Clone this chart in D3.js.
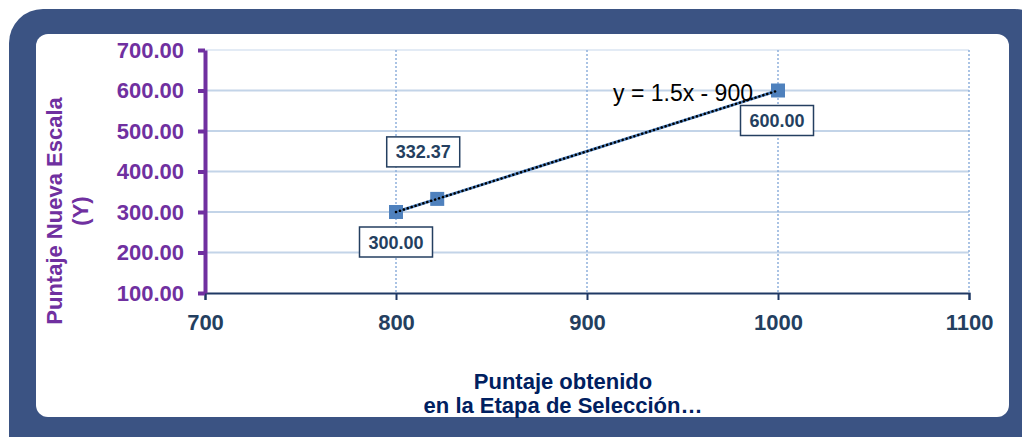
<!DOCTYPE html>
<html>
<head>
<meta charset="utf-8">
<script src="https://cdn.jsdelivr.net/npm/d3@7"></script>
<style>
  body { margin: 0; background: #fff; }
  svg { display: block; }
</style>
</head>
<body>
<svg id="chart"></svg>
<script>
// data
var xValues = [800, 821.58, 1000];
var yValues = [300, 332.37, 600];
var pointLabels = ['300.00', '332.37', '600.00'];
var xTicks = [700, 800, 900, 1000, 1100];
var yTicks = [100, 200, 300, 400, 500, 600, 700];
var trendStart = [800, 1000];
var trendSlope = 1.5, trendIntercept = -900;
var equationText = 'y = 1.5x - 900';

var width = 1022, height = 437;
var svg = d3.select('#chart').attr('width', width).attr('height', height);

// frame
svg.append('rect').attr('x', 9).attr('y', 9).attr('width', 1040).attr('height', 470)
    .attr('rx', 34).attr('fill', '#3b5383');
svg.append('rect').attr('x', 36).attr('y', 34).attr('width', 973).attr('height', 383)
    .attr('rx', 12).attr('fill', '#fff');

var x = d3.scaleLinear().domain([700, 1100]).range([205, 969]);
var y = d3.scaleLinear().domain([100, 700]).range([293, 50]);

// gridlines
svg.append('g').selectAll('line').data(yTicks.slice(1)).enter().append('line')
    .attr('x1', x(700)).attr('x2', x(1100))
    .attr('y1', function (d) { return y(d); }).attr('y2', function (d) { return y(d); })
    .attr('stroke', function (d) { return d === 700 ? '#e3ebf5' : '#c3d4e8'; })
    .attr('stroke-width', 2);
svg.append('g').selectAll('line').data(xTicks.slice(1)).enter().append('line')
    .attr('x1', function (d) { return x(d); }).attr('x2', function (d) { return x(d); })
    .attr('y1', y(700)).attr('y2', y(100))
    .attr('stroke', '#8fb0dc').attr('stroke-width', 1.5).attr('stroke-dasharray', '2,2');

// x axis
var xAxis = svg.append('g').attr('transform', 'translate(0,' + y(100) + ')')
    .call(d3.axisBottom(x).tickValues(xTicks).tickSize(7).tickPadding(14).tickFormat(d3.format('d')));
xAxis.select('.domain').attr('stroke', '#1f3864').attr('stroke-width', 2);
xAxis.selectAll('.tick line').attr('stroke', '#1f3864').attr('stroke-width', 2);
xAxis.selectAll('.tick text').attr('fill', '#243f60')
    .style('font', 'bold 22px "Liberation Sans", Arial, sans-serif');

// y axis
var yAxis = svg.append('g').attr('transform', 'translate(' + x(700) + ',0)')
    .call(d3.axisLeft(y).tickValues(yTicks).tickSize(7).tickSizeOuter(0).tickPadding(14).tickFormat(d3.format('.2f')));
yAxis.select('.domain').attr('stroke', '#7030a0').attr('stroke-width', 4);
yAxis.selectAll('.tick line').attr('stroke', '#7030a0').attr('stroke-width', 4);
yAxis.selectAll('.tick text').attr('fill', '#7030a0')
    .style('font', 'bold 22px "Liberation Sans", Arial, sans-serif');

// axis titles
var yTitle = svg.append('text').attr('transform', 'translate(62,211) rotate(-90)')
    .attr('text-anchor', 'middle').attr('fill', '#7030a0')
    .style('font', 'bold 22px "Liberation Sans", Arial, sans-serif');
yTitle.append('tspan').attr('x', 0).attr('dy', 0).text('Puntaje Nueva Escala');
yTitle.append('tspan').attr('x', 0).attr('dy', 26).text('(Y)');

var xTitle = svg.append('text').attr('text-anchor', 'middle').attr('fill', '#002060')
    .style('font', 'bold 22px "Liberation Sans", Arial, sans-serif');
xTitle.append('tspan').attr('x', 563).attr('y', 389).text('Puntaje obtenido');
xTitle.append('tspan').attr('x', 563).attr('y', 413).text('en la Etapa de Selección…');

// series line + trendline
var pts = xValues.map(function (d, i) { return [d, yValues[i]]; });
var line = d3.line().x(function (d) { return x(d[0]); }).y(function (d) { return y(d[1]); });
svg.append('path').datum(pts).attr('d', line)
    .attr('fill', 'none').attr('stroke', '#4f81bd').attr('stroke-width', 3);

// markers
var ms = 14;
svg.append('g').selectAll('rect').data(pts).enter().append('rect')
    .attr('x', function (d) { return x(d[0]) - ms / 2; })
    .attr('y', function (d) { return y(d[1]) - ms / 2; })
    .attr('width', ms).attr('height', ms).attr('fill', '#4f81bd');

// trendline on top of markers (as in the picture)
var trend = trendStart.map(function (d) { return [d, trendSlope * d + trendIntercept]; });
svg.append('path').datum(trend).attr('d', line)
    .attr('fill', 'none').attr('stroke', '#000').attr('stroke-width', 2.5)
    .attr('stroke-dasharray', '0.1,4').attr('stroke-linecap', 'round');

// data labels
var labelOffsets = [[0, 30], [-14, -47], [-1, 30]];
var lg = svg.append('g').selectAll('g').data(pts).enter().append('g')
    .attr('transform', function (d, i) {
        return 'translate(' + (x(d[0]) + labelOffsets[i][0]) + ',' + (y(d[1]) + labelOffsets[i][1]) + ')';
    });
lg.append('rect').attr('x', -36.5).attr('y', -15).attr('width', 73).attr('height', 30)
    .attr('fill', '#fff').attr('stroke', '#243f60').attr('stroke-width', 1.5);
lg.append('text').attr('text-anchor', 'middle').attr('y', 6.5).attr('fill', '#243f60')
    .style('font', 'bold 18px "Liberation Sans", Arial, sans-serif')
    .text(function (d, i) { return pointLabels[i]; });

// equation
svg.append('text').attr('x', x(1000) - 25).attr('y', y(600) + 10)
    .attr('text-anchor', 'end').attr('fill', '#000')
    .style('font', '23px "Liberation Sans", Arial, sans-serif')
    .text(equationText);
</script>
</body>
</html>
